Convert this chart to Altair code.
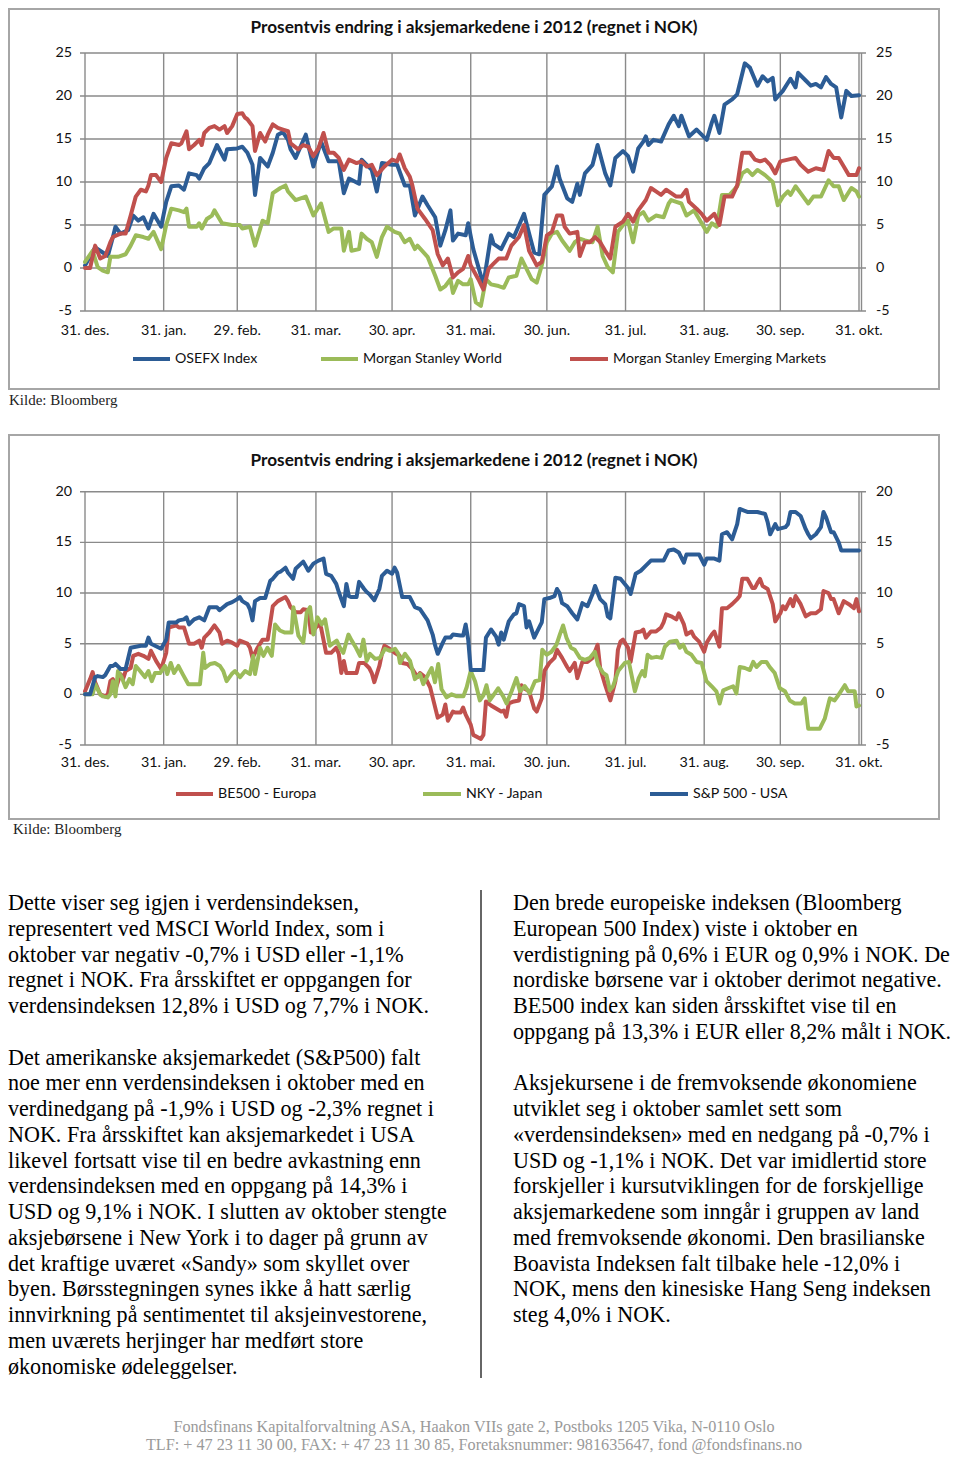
import altair as alt
import pandas as pd

# ---------------- data ----------------
TICK_DAYS = [0, 31, 60, 91, 121, 152, 182, 213, 244, 274, 305]
TICK_LABELS = ["31. des.", "31. jan.", "29. feb.", "31. mar.", "30. apr.", "31. mai.",
               "30. jun.", "31. jul.", "31. aug.", "30. sep.", "31. okt."]
Y1_TICKS = [-5, 0, 5, 10, 15, 20, 25]
Y2_TICKS = [-5, 0, 5, 10, 15, 20]

TITLE = "Prosentvis endring i aksjemarkedene  i 2012 (regnet i NOK)"
SOURCE = "Kilde: Bloomberg"
LEGEND1 = ["OSEFX Index", "Morgan Stanley World", "Morgan Stanley Emerging Markets"]
LEGEND2 = ["BE500 - Europa", "NKY - Japan", "S&P 500 - USA"]

# Chart 1 : OSEFX Index (blue)
OSEFX_DAY = [0, 4, 7, 9, 11, 12, 14, 17, 19, 21, 23, 25, 27, 30, 32, 34, 37, 39, 41, 44, 45, 47, 49, 52, 55, 56,
             60, 62, 64, 66, 67, 69, 72, 74, 76, 78, 80, 81, 83, 87, 90, 93, 96, 100, 102, 104, 108, 109, 113, 115,
             117, 121, 123, 126, 128, 130, 133, 135, 138, 140, 142, 144, 145, 147, 150, 151, 153, 156, 157, 160, 161,
             164, 167, 169, 173, 175, 177, 179, 181, 184, 186, 187, 190, 192, 194, 195, 197, 200, 202, 205, 207, 209,
             212, 214, 216, 218, 220, 221, 222, 224, 227, 230, 232, 234, 235, 238, 241, 243, 245, 247, 248, 250, 252,
             255, 257, 260, 262, 265, 267, 269, 271, 272, 275, 278, 280, 281, 284, 286, 288, 290, 292, 294, 296, 298,
             300, 302, 305]
OSEFX_VAL = [0.3, 2.4, 1.8, 1.4, 3.6, 4.8, 4.0, 4.4, 6.1, 5.5, 5.9, 4.6, 6.3, 4.8, 7.7, 9.5, 9.6, 9.1, 11.0, 10.8,
             10.4, 11.6, 12.2, 14.3, 12.6, 13.8, 13.9, 14.1, 13.4, 12.0, 8.5, 12.8, 11.8, 13.4, 15.5, 15.8, 14.9, 13.8,
             12.8, 15.5, 11.8, 14.7, 12.4, 12.4, 8.7, 10.4, 9.8, 12.6, 11.4, 8.9, 12.2, 12.0, 12.0, 9.6, 9.6, 6.1, 8.3,
             7.3, 5.9, 2.6, 4.4, 6.7, 3.2, 4.0, 3.8, 5.2, 2.2, -0.9, -1.9, 3.8, 2.8, 2.2, 4.0, 3.6, 6.3, 4.0, 1.8, 1.6,
             8.5, 9.5, 11.8, 10.4, 8.1, 7.7, 9.8, 8.5, 11.0, 12.0, 14.3, 11.0, 9.6, 12.8, 13.6, 13.0, 11.2, 13.9, 14.7,
             15.3, 14.3, 14.9, 14.7, 16.7, 17.7, 16.5, 17.7, 15.3, 16.1, 15.5, 14.9, 16.9, 17.7, 15.7, 19.0, 19.6,
             20.2, 23.8, 23.3, 21.2, 22.3, 21.7, 22.1, 19.6, 20.6, 22.0, 21.0, 22.7, 21.8, 21.2, 21.4, 21.0, 22.2, 21.4,
             21.0, 17.5, 20.6, 20.0, 20.1]

# Chart 1 : Morgan Stanley World (green)
MSW_DAY = [0, 3, 5, 7, 9, 10, 13, 16, 18, 20, 23, 25, 27, 30, 32, 34, 37, 39, 40, 41, 44, 45, 46, 48, 50, 51, 54,
           58, 61, 62, 65, 67, 70, 72, 74, 77, 79, 80, 83, 87, 90, 93, 96, 98, 101, 102, 104, 105, 108, 109, 111,
           113, 115, 117, 119, 122, 124, 126, 128, 130, 131, 135, 138, 140, 142, 144, 145, 147, 149, 151, 152, 154,
           156, 158, 160, 163, 165, 167, 170, 172, 174, 176, 178, 180, 182, 184, 186, 188, 191, 193, 195, 197, 200,
           202, 204, 206, 208, 210, 212, 214, 216, 218, 220, 222, 225, 228, 230, 231, 233, 235, 237, 240, 242, 245,
           247, 249, 251, 254, 257, 259, 261, 263, 265, 268, 271, 273, 275, 277, 278, 280, 282, 285, 287, 290, 293,
           295, 297, 299, 302, 304, 305]
MSW_VAL = [0.7, 2.0, 0.1, -0.3, -0.5, 1.3, 1.3, 1.6, 2.6, 3.8, 3.6, 3.4, 4.2, 2.2, 5.0, 6.9, 6.7, 6.5, 6.9, 4.8, 4.8,
           5.2, 4.6, 5.7, 6.1, 6.7, 5.2, 5.0, 5.0, 4.6, 4.8, 2.6, 5.5, 5.2, 8.7, 9.3, 9.6, 8.9, 7.9, 8.3, 6.1, 7.5,
           4.2, 4.6, 4.6, 2.0, 4.2, 2.0, 2.2, 4.0, 3.4, 3.0, 1.3, 3.6, 4.8, 4.2, 4.0, 3.0, 3.4, 2.2, 2.6, 1.3, -0.9,
           -2.5, -2.1, -1.3, -2.9, -1.5, -1.9, -1.9, -1.3, -4.0, -4.4, -1.3, -1.9, -2.1, -2.3, -1.1, -0.9, 1.1, -0.1,
           -1.3, -1.7, 0.3, 3.0, 4.0, 4.2, 3.2, 2.0, 3.0, 3.4, 3.2, 3.0, 4.8, 1.4, 0.1, -0.5, 4.2, 5.0, 5.5, 3.0, 6.1,
           6.5, 5.5, 6.1, 5.9, 7.5, 7.9, 7.7, 7.5, 6.1, 6.7, 5.7, 4.2, 5.2, 4.8, 8.5, 8.5, 9.5, 11.0, 11.4, 10.8,
           11.4, 10.8, 10.0, 7.3, 8.3, 8.9, 8.5, 9.5, 8.7, 7.5, 8.3, 8.3, 10.2, 9.5, 9.5, 7.9, 9.3, 8.9, 8.3]

# Chart 1 : Morgan Stanley Emerging Markets (red)
MSEM_DAY = [0, 2, 4, 6, 8, 10, 11, 14, 16, 18, 20, 22, 24, 25, 26, 28, 30, 32, 34, 37, 38, 40, 41, 43, 45, 46, 47,
            49, 51, 53, 55, 56, 58, 60, 62, 63, 64, 66, 67, 69, 71, 72, 74, 76, 78, 80, 81, 84, 86, 88, 90, 92, 94,
            96, 98, 100, 102, 104, 107, 109, 111, 113, 115, 118, 121, 123, 124, 126, 128, 129, 131, 134, 137, 139,
            141, 143, 145, 147, 149, 151, 152, 155, 157, 159, 161, 163, 166, 168, 171, 173, 175, 178, 180, 182, 184,
            186, 188, 189, 191, 194, 195, 197, 199, 201, 203, 205, 207, 209, 212, 214, 216, 218, 221, 223, 225, 227,
            229, 231, 233, 235, 237, 238, 241, 243, 245, 248, 250, 252, 255, 257, 259, 262, 264, 266, 268, 270, 272,
            274, 277, 280, 282, 285, 288, 291, 293, 295, 297, 299, 301, 304, 305]
MSEM_VAL = [0.0, 0.0, 2.6, 1.1, 1.4, 3.0, 3.6, 4.0, 4.0, 6.1, 8.3, 9.1, 8.9, 9.6, 10.8, 10.8, 10.0, 12.8, 14.5, 14.3,
            14.5, 15.9, 13.8, 14.3, 14.9, 14.3, 15.7, 16.3, 16.5, 16.1, 16.5, 15.7, 16.5, 17.9, 18.0, 17.5, 17.3,
            16.5, 13.6, 15.7, 14.7, 15.5, 16.7, 16.3, 16.1, 15.9, 14.5, 13.8, 14.3, 14.1, 13.0, 13.9, 15.7, 13.4,
            13.4, 12.8, 11.4, 12.6, 12.2, 12.4, 11.8, 12.0, 10.8, 11.8, 12.6, 12.4, 13.2, 11.6, 10.6, 9.6, 6.9, 5.7,
            4.4, 1.6, 0.3, 1.1, -1.1, -0.5, -0.1, 1.4, 0.3, -1.3, -2.5, -0.1, 0.5, 1.1, 1.1, 2.6, 3.6, 5.0, 2.0, 0.3,
            0.7, 3.8, 4.2, 6.1, 6.1, 4.8, 4.0, 4.2, 1.4, 3.0, 3.0, 3.6, 3.0, 2.0, 1.1, 4.8, 5.4, 6.3, 5.4, 6.7, 7.9,
            9.3, 8.9, 8.5, 9.1, 8.7, 8.3, 8.3, 9.1, 7.7, 6.9, 6.3, 5.5, 6.3, 5.0, 8.3, 8.3, 9.6, 13.4, 13.4, 12.6,
            12.4, 12.6, 12.0, 11.0, 12.4, 12.6, 12.8, 12.0, 11.2, 11.6, 11.4, 13.6, 12.8, 12.8, 11.8, 10.8, 10.8,
            11.6]

# Chart 2 : BE500 - Europa (red)
BE500_DAY = [0, 2, 3, 4, 6, 8, 9, 10, 11, 12, 14, 15, 16, 18, 19, 21, 23, 25, 26, 28, 30, 32, 33, 36, 37, 39, 41, 43,
             45, 46, 47, 49, 51, 53, 54, 56, 58, 60, 61, 64, 65, 66, 68, 70, 72, 74, 76, 79, 80, 81, 83, 85, 86, 88,
             89, 91, 92, 93, 95, 97, 99, 100, 101, 102, 103, 107, 108, 110, 112, 113, 114, 116, 117, 118, 120, 121,
             122, 124, 125, 127, 129, 131, 132, 134, 136, 137, 139, 141, 142, 143, 145, 146, 148, 149, 150, 152,
             153, 156, 157, 158, 160, 162, 164, 165, 166, 167, 169, 171, 172, 173, 175, 177, 178, 180, 181, 183,
             185, 186, 188, 190, 191, 193, 194, 196, 198, 200, 202, 203, 205, 207, 209, 210, 211, 212, 214, 215, 217,
             219, 220, 221, 223, 225, 227, 228, 229, 231, 233, 234, 236, 237, 239, 240, 242, 244, 245, 247, 248, 250,
             251, 253, 255, 257, 258, 259, 261, 263, 264, 265, 266, 267, 269, 271, 272, 274, 275, 276, 278, 279, 280,
             282, 284, 286, 288, 290, 291, 293, 294, 295, 297, 299, 301, 303, 304, 305]
BE500_VAL = [0.3, 1.5, 2.2, 1.2, 0.0, -0.2, 0.0, 1.3, 1.5, 0.5, 2.0, 1.5, 2.3, 2.6, 3.8, 4.0, 3.8, 3.5, 4.3, 3.3, 2.5,
             4.1, 6.6, 6.8, 6.6, 6.6, 5.0, 5.0, 5.3, 4.6, 5.6, 6.1, 6.8, 6.1, 5.0, 5.3, 5.1, 4.8, 5.3, 5.0, 4.6, 3.6,
             4.6, 5.4, 5.4, 8.7, 9.2, 9.6, 9.2, 8.6, 8.1, 8.1, 8.4, 8.3, 6.1, 6.6, 6.9, 6.6, 4.1, 4.1, 4.6, 4.0, 2.1,
             3.3, 2.1, 2.1, 3.1, 3.1, 2.6, 2.1, 1.2, 2.8, 4.0, 4.8, 4.5, 4.3, 4.1, 3.8, 3.1, 3.0, 2.5, 1.7, 2.1, 1.7,
             0.7, -0.3, -2.3, -2.0, -1.0, -2.6, -1.7, -1.8, -1.8, -1.3, -2.0, -3.0, -4.0, -4.4, -4.0, -0.7, -1.1,
             -1.4, -1.7, -1.6, -2.2, -0.9, -0.7, -0.6, 0.9, 0.6, 0.3, -1.4, -1.7, -0.4, 2.3, 3.1, 3.6, 4.4, 3.6, 2.7,
             2.3, 3.1, 1.6, 3.2, 3.2, 3.6, 4.9, 2.6, 0.9, -0.6, 1.3, 4.4, 5.2, 5.4, 4.6, 3.2, 6.1, 6.2, 6.4, 5.6, 6.2,
             6.2, 6.6, 7.1, 7.9, 7.7, 7.4, 8.0, 6.9, 5.9, 6.2, 5.7, 5.2, 4.2, 5.1, 5.9, 6.2, 4.7, 8.5, 8.5, 8.9, 9.4,
             9.7, 11.4, 11.4, 10.5, 10.5, 11.0, 11.4, 10.7, 10.4, 8.9, 7.2, 8.0, 8.7, 8.4, 9.4, 8.7, 9.7, 8.9, 7.7,
             8.0, 8.0, 8.4, 10.2, 10.0, 9.4, 9.4, 8.0, 9.2, 8.9, 8.5, 9.4, 8.2]

# Chart 2 : NKY - Japan (green)
NKY_DAY = [0, 3, 4, 6, 7, 9, 10, 11, 12, 13, 14.4, 16, 17.5, 18.8, 20, 21.7, 23.6, 25, 26.3, 27.6, 29.6, 31.5, 32.4,
           33.8, 35.1, 36.8, 38.5, 40.7, 45.3, 46.6, 47.3, 49.3, 51.2, 53.2, 54.5, 55.8, 57.8, 59.1, 61.1, 63.1, 65,
           66.3, 67, 69, 70.3, 71.9, 73.6, 74.9, 76.8, 78.8, 81.4, 82.1, 84.1, 86, 87.4, 88.7, 90, 91.6, 93.3, 94.6,
           96.5, 99.2, 100.5, 101.8, 103.8, 105.1, 106.8, 108.4, 109.7, 111, 112.3, 114.3, 116.2, 118.2, 120.2,
           122.2, 123.5, 124.1, 126.1, 128.1, 130, 132, 133.3, 135.3, 136.6, 137.9, 139.2, 140.5, 142.5, 144.5,
           146.5, 149.1, 150.4, 152, 153.7, 155.6, 157, 158.2, 159.5, 160.9, 162.8, 164.8, 166.1, 168.1, 170, 171.4,
           173.3, 175.3, 177.3, 179.2, 180.2, 181.9, 183.8, 185.8, 187.1, 188.4, 189.7, 191.5, 193, 195, 197, 199,
           200.9, 202.2, 204.2, 205.5, 206.8, 208.1, 210.1, 212.7, 214.3, 216.7, 218.2, 219.6, 220.6, 221.7, 223.2,
           225.2, 227.2, 228.5, 230.5, 233.1, 234.4, 235.7, 237, 239, 241, 243, 244.9, 246.9, 248.8, 250.1, 251.5,
           253.4, 255.4, 256.7, 258, 260, 262, 263.3, 264.6, 266.6, 268.5, 269.8, 271.8, 273.8, 275.8, 277.7, 279.7,
           282.3, 283.6, 285, 286.9, 289.5, 291.5, 293.5, 295.4, 296.8, 298.1, 299.4, 300.7, 303.3, 304, 305]
NKY_VAL = [0.0, 0.0, 1.0, 0.0, -0.2, -0.3, 0.0, 1.3, -0.2, 2.3, 1.7, 0.7, 1.5, 1.0, 2.8, 2.3, 1.7, 2.3, 1.3, 2.1, 2.1,
           2.8, 2.0, 3.1, 2.1, 2.8, 2.0, 1.0, 1.0, 4.1, 2.6, 3.0, 3.1, 2.8, 2.3, 1.3, 2.0, 2.3, 1.7, 2.3, 2.0, 3.8,
           2.0, 4.6, 3.8, 4.6, 3.8, 6.9, 6.3, 6.1, 6.1, 8.6, 5.8, 5.1, 8.1, 8.6, 5.9, 7.6, 6.9, 7.4, 4.8, 5.3, 4.6,
           4.1, 5.9, 5.3, 4.6, 3.8, 5.4, 3.3, 4.0, 3.5, 3.6, 4.5, 4.3, 4.5, 4.0, 3.1, 4.0, 3.3, 1.5, 2.0, 1.0, 2.0,
           2.6, 1.2, 3.0, 0.5, -0.3, 0.0, -0.2, -0.2, 0.7, 2.3, 1.3, -0.6, -0.1, 0.9, -0.6, -0.1, 0.6, -0.2, -0.9,
           0.3, 1.6, 0.3, 0.8, 0.1, 1.3, 1.4, 4.4, 3.9, 4.2, 4.9, 5.9, 6.8, 5.6, 4.6, 4.4, 3.6, 3.4, 3.6, 4.2, 2.9,
           2.1, 1.9, 0.4, 0.8, 2.3, 3.1, 3.2, 0.3, 1.6, 2.3, 1.8, 3.9, 3.6, 3.7, 3.6, 4.7, 5.2, 5.3, 4.6, 4.9, 4.2,
           3.9, 3.2, 3.1, 1.3, 0.8, 0.3, -0.9, 0.4, 0.6, 0.8, 0.1, 2.7, 2.6, 2.4, 3.2, 2.7, 3.2, 3.2, 2.7, 2.1, 0.6,
           0.3, -0.6, -0.9, -0.9, -0.4, -3.4, -3.4, -3.4, -2.4, -0.4, -0.6, -0.1, 0.4, 0.9, 0.3, 0.3, -1.2, -1.1]

# Chart 2 : S&P 500 - USA (blue)
SPX_DAY = [0, 2, 4, 5, 7, 8, 10, 11, 12, 14, 16, 18, 22, 24, 25, 26, 30, 32, 33, 36, 37, 39, 40, 41, 43, 45, 47, 49,
           52, 53, 56, 58, 60, 61, 62, 64, 65, 66, 67, 69, 71, 73, 74, 76, 77, 79, 80, 82, 83, 86, 88, 90, 92, 94,
           95, 97, 99, 100, 102, 103, 104, 105, 107, 108, 110, 111, 112, 114, 116, 117, 119, 121, 122, 123, 125,
           128, 130, 132, 135, 137, 138, 139, 141, 142, 144, 145, 148, 149, 150, 151, 152, 157, 158, 160, 162, 163,
           164, 165, 167, 169, 170, 171, 173, 174, 175, 177, 179, 180, 181, 183, 185, 186, 187, 188, 190, 192, 194,
           196, 198, 200, 201, 203, 205, 206, 207, 209, 211, 214, 215, 217, 219, 221, 223, 226, 228, 230, 232, 234,
           236, 237, 240, 242, 244, 245, 248, 250, 251, 253, 255, 257, 258, 261, 263, 265, 268, 269, 270, 272, 273,
           276, 277, 278, 280, 282, 284, 285, 286, 288, 290, 291, 292, 294, 295, 297, 298, 299, 305]
SPX_VAL = [0.0, 0.0, 1.7, 1.8, 1.7, 1.9, 2.8, 2.8, 3.0, 2.5, 2.5, 4.6, 4.8, 4.8, 5.6, 5.0, 4.5, 5.4, 7.1, 7.1, 7.3,
           7.4, 7.6, 6.9, 7.4, 7.6, 7.3, 8.6, 8.6, 8.3, 8.9, 9.1, 9.4, 9.6, 9.2, 8.9, 8.4, 7.3, 9.2, 9.5, 9.5, 11.2,
           11.4, 12.0, 12.1, 12.5, 12.0, 11.4, 12.4, 13.1, 12.2, 12.9, 13.2, 13.4, 11.9, 11.7, 10.9, 10.1, 8.7, 10.9,
           9.7, 9.6, 9.6, 11.1, 10.4, 10.1, 9.9, 9.3, 10.4, 11.7, 12.2, 11.9, 12.5, 12.0, 9.6, 9.6, 8.6, 8.4, 7.3,
           5.9, 4.8, 4.0, 5.1, 5.6, 5.6, 5.9, 5.8, 5.8, 6.9, 5.4, 2.4, 2.4, 5.6, 6.4, 5.7, 4.9, 6.1, 5.4, 7.2, 7.9,
           8.0, 8.9, 8.7, 6.6, 7.2, 5.6, 6.6, 7.1, 9.4, 9.5, 9.7, 10.4, 10.0, 9.0, 8.7, 8.0, 7.4, 9.0, 8.7, 9.9,
           10.7, 9.4, 8.9, 7.7, 7.5, 11.5, 11.4, 10.5, 9.9, 11.9, 12.2, 12.7, 13.2, 13.2, 13.2, 14.2, 14.3, 14.0,
           13.0, 13.8, 13.8, 13.8, 12.8, 13.4, 13.4, 13.2, 15.8, 16.0, 15.3, 16.8, 18.3, 18.0, 18.0, 18.0, 17.8,
           17.0, 15.8, 16.8, 16.3, 16.5, 16.8, 18.0, 18.0, 17.6, 16.3, 15.8, 15.4, 15.8, 16.5, 18.0, 17.5, 16.0,
           16.0, 15.0, 14.2, 14.2, 14.2]

LEFT_P1 = [
    "Dette viser seg igjen i verdensindeksen,",
    "representert ved MSCI World Index, som i",
    "oktober var negativ -0,7% i USD eller -1,1%",
    "regnet i NOK. Fra årsskiftet er oppgangen for",
    "verdensindeksen 12,8% i USD og 7,7% i NOK.",
]
LEFT_P2 = [
    "Det amerikanske aksjemarkedet (S&P500) falt",
    "noe mer enn verdensindeksen i oktober med en",
    "verdinedgang på -1,9% i USD og -2,3% regnet i",
    "NOK. Fra årsskiftet kan aksjemarkedet i USA",
    "likevel fortsatt vise til en bedre avkastning enn",
    "verdensindeksen med en oppgang på 14,3% i",
    "USD og 9,1% i NOK. I slutten av oktober stengte",
    "aksjebørsene i New York i to dager på grunn av",
    "det kraftige uværet «Sandy» som skyllet over",
    "byen. Børsstegningen synes ikke å hatt særlig",
    "innvirkning på sentimentet til aksjeinvestorene,",
    "men uværets herjinger har medført store",
    "økonomiske ødeleggelser.",
]
RIGHT_P1 = [
    "Den brede europeiske indeksen (Bloomberg",
    "European 500 Index) viste i oktober en",
    "verdistigning på 0,6% i EUR og 0,9% i NOK. De",
    "nordiske børsene var i oktober derimot negative.",
    "BE500 index kan siden årsskiftet vise til en",
    "oppgang på 13,3% i EUR eller 8,2% målt i NOK.",
]
RIGHT_P2 = [
    "Aksjekursene i de fremvoksende økonomiene",
    "utviklet seg i oktober samlet sett som",
    "«verdensindeksen» med en nedgang på -0,7% i",
    "USD og -1,1% i NOK.  Det var imidlertid store",
    "forskjeller i kursutviklingen for de forskjellige",
    "aksjemarkedene som inngår i gruppen av land",
    "med fremvoksende økonomi. Den brasilianske",
    "Boavista Indeksen falt tilbake hele -12,0% i",
    "NOK, mens den kinesiske Hang Seng indeksen",
    "steg 4,0% i NOK.",
]
FOOTER = [
    "Fondsfinans Kapitalforvaltning ASA, Haakon VIIs gate 2, Postboks 1205 Vika, N-0110 Oslo",
    "TLF: + 47 23 11 30 00, FAX: + 47 23 11 30 85, Foretaksnummer: 981635647, fond @fondsfinans.no",
]

# ---------------- style ----------------
BLUE = "#2C5C95"
RED = "#C0504D"
GREEN = "#9BBB59"
GRID = "#8A8A8A"
FRAME = "#A6A6A6"
CFONT = "Lato"
SERIF = "Liberation Serif"
TICK_FS = 14.3
LEG_FS = 14.2
TITLE_FS = 17.2
BODY_FS = 22.1
LH = 25.75

XS = alt.Scale(domain=[0, 305], range=[77, 851], nice=False, zero=False)
Y1S = alt.Scale(domain=[-5, 25], range=[303, 45], nice=False, zero=False)
Y2S = alt.Scale(domain=[-5, 20], range=[737, 483.7], nice=False, zero=False)

one = pd.DataFrame({"k": [0]})


def frame(y0, y1):
    return alt.Chart(one).mark_rect(fill="white", stroke=FRAME, strokeWidth=2).encode(
        x=alt.value(1), x2=alt.value(931), y=alt.value(y0), y2=alt.value(y1))


def hgrid(ticks, ys):
    df = pd.DataFrame({"v": ticks})
    return alt.Chart(df).mark_rule(color=GRID, strokeWidth=1.4).encode(
        y=alt.Y("v:Q", scale=ys, axis=None), x=alt.value(72), x2=alt.value(858))


def vgrid(y0, y1):
    df = pd.DataFrame({"day": TICK_DAYS})
    return alt.Chart(df).mark_rule(color=GRID, strokeWidth=1.4).encode(
        x=alt.X("day:Q", scale=XS, axis=None), y=alt.value(y0), y2=alt.value(y1))


def raxis(y0, y1):
    return alt.Chart(one).mark_rule(color=GRID, strokeWidth=1.4).encode(
        x=alt.value(853.5), y=alt.value(y0), y2=alt.value(y1))


def ylabels(ticks, ys, xpos, align):
    df = pd.DataFrame({"v": ticks, "lab": [str(t) for t in ticks]})
    return alt.Chart(df).mark_text(align=align, baseline="middle", font=CFONT, fontSize=TICK_FS,
                                   color="#111").encode(
        y=alt.Y("v:Q", scale=ys, axis=None), x=alt.value(xpos), text="lab:N")


def xlabels(ypos):
    df = pd.DataFrame({"day": TICK_DAYS, "lab": TICK_LABELS})
    return alt.Chart(df).mark_text(align="center", baseline="middle", font=CFONT, fontSize=TICK_FS,
                                   color="#111").encode(
        x=alt.X("day:Q", scale=XS, axis=None), y=alt.value(ypos), text="lab:N")


def series(days, vals, ys, color):
    df = pd.DataFrame({"day": days, "v": vals})
    return alt.Chart(df).mark_line(color=color, strokeWidth=4, strokeJoin="round", strokeCap="round").encode(
        x=alt.X("day:Q", scale=XS, axis=None), y=alt.Y("v:Q", scale=ys, axis=None))


def text(s, x, y, size, font=CFONT, weight="normal", align="left", color="#111", lh=None):
    kw = dict(text=s, align=align, baseline="middle", font=font, fontSize=size, fontWeight=weight, color=color)
    if lh is not None:
        kw["lineHeight"] = lh
    return alt.Chart(one).mark_text(**kw).encode(x=alt.value(x), y=alt.value(y))


def legend_item(x0, x1, y, color, label):
    line = alt.Chart(one).mark_rule(color=color, strokeWidth=4).encode(
        x=alt.value(x0), x2=alt.value(x1), y=alt.value(y))
    return [line, text(label, x1 + 5, y, LEG_FS)]


layers = []
# ---- chart 1 ----
layers.append(frame(1, 381))
layers.append(text(TITLE, 466, 20, TITLE_FS, weight="bold", align="center"))
layers.append(hgrid(Y1_TICKS, Y1S))
layers.append(vgrid(45, 303))
layers.append(raxis(45, 303))
layers.append(ylabels(Y1_TICKS, Y1S, 64, "right"))
layers.append(ylabels(Y1_TICKS, Y1S, 868, "left"))
layers.append(xlabels(322.5))
layers.append(series(OSEFX_DAY, OSEFX_VAL, Y1S, BLUE))
layers.append(series(MSW_DAY, MSW_VAL, Y1S, GREEN))
layers.append(series(MSEM_DAY, MSEM_VAL, Y1S, RED))
layers += legend_item(125, 162, 351, BLUE, LEGEND1[0])
layers += legend_item(313, 350, 351, GREEN, LEGEND1[1])
layers += legend_item(562, 600, 351, RED, LEGEND1[2])
layers.append(text(SOURCE, 1, 392, 15, font=SERIF, color="#222"))

# ---- chart 2 ----
layers.append(frame(427, 811))
layers.append(text(TITLE, 466, 453, TITLE_FS, weight="bold", align="center"))
layers.append(hgrid(Y2_TICKS, Y2S))
layers.append(vgrid(483.7, 737))
layers.append(raxis(483.7, 737))
layers.append(ylabels(Y2_TICKS, Y2S, 64, "right"))
layers.append(ylabels(Y2_TICKS, Y2S, 868, "left"))
layers.append(xlabels(754.5))
layers.append(series(BE500_DAY, BE500_VAL, Y2S, RED))
layers.append(series(NKY_DAY, NKY_VAL, Y2S, GREEN))
layers.append(series(SPX_DAY, SPX_VAL, Y2S, BLUE))
layers += legend_item(168, 205, 786, RED, LEGEND2[0])
layers += legend_item(415, 453, 786, GREEN, LEGEND2[1])
layers += legend_item(642, 680, 786, BLUE, LEGEND2[2])
layers.append(text(SOURCE, 5, 821, 15, font=SERIF, color="#222"))

# ---- body text (first line of each block is centred on y) ----
layers.append(text(LEFT_P1, 0, 895, BODY_FS, font=SERIF, color="#000", lh=LH))
layers.append(text(LEFT_P2, 0, 895 + 6 * LH, BODY_FS, font=SERIF, color="#000", lh=LH))
layers.append(text(RIGHT_P1, 505, 895, BODY_FS, font=SERIF, color="#000", lh=LH))
layers.append(text(RIGHT_P2, 505, 895 + 7 * LH, BODY_FS, font=SERIF, color="#000", lh=LH))
layers.append(alt.Chart(one).mark_rule(color="#333", strokeWidth=1.5).encode(
    x=alt.value(473), y=alt.value(882), y2=alt.value(1370)))
layers.append(text(FOOTER, 466, 1419, 16.2, font=SERIF, align="center", color="#9A9A9A", lh=17.5))

chart = alt.layer(*layers).resolve_scale(y="independent").properties(
    width=944, height=1447, padding=0, autosize=alt.AutoSizeParams(type="none")
).configure_view(strokeWidth=0)

chart.save("out.html", embed_options={"renderer": "svg", "actions": False})
